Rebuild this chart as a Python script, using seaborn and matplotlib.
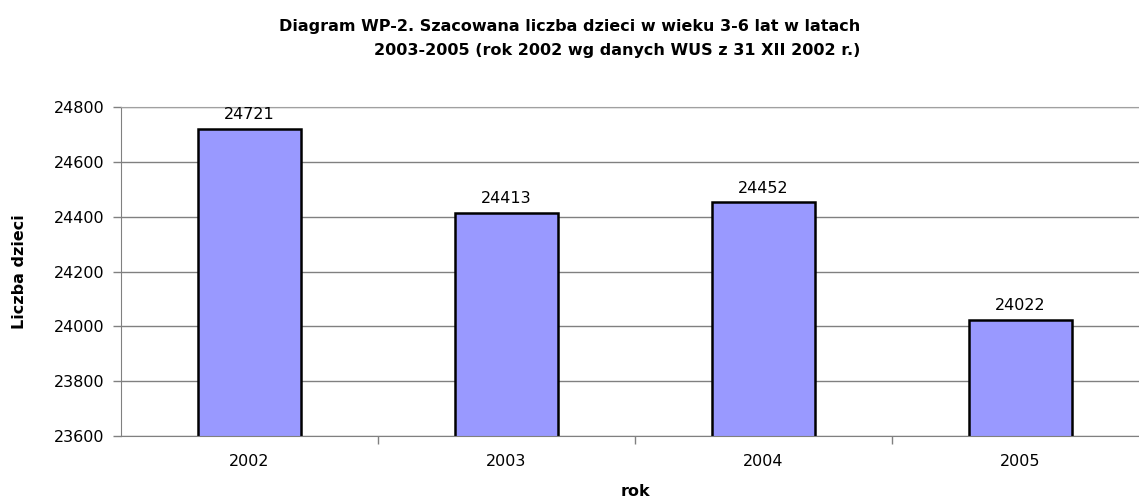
import matplotlib.pyplot as plt
import pandas as pd
import seaborn as sns

# data
years = ["2002", "2003", "2004", "2005"]
children = [24721, 24413, 24452, 24022]

df = pd.DataFrame({"rok": years, "dzieci": children})

sns.set_style("white")
plt.rcParams["font.family"] = ["DejaVu Sans"]
plt.rcParams["text.color"] = "black"
plt.rcParams["xtick.labelcolor"] = "black"
plt.rcParams["ytick.labelcolor"] = "black"
plt.rcParams["axes.labelcolor"] = "black"

fig = plt.figure(figsize=(11.39, 5.03), dpi=100)
ax = fig.add_axes([121 / 1139, 1 - 436 / 503, 1028 / 1139, 329 / 503])

sns.barplot(data=df, x="rok", y="dzieci", color="#9999ff", width=0.4,
            edgecolor="black", linewidth=1.8, saturation=1, ax=ax)

ax.set_ylim(23600, 24800)
ax.set_yticks(range(23600, 24801, 200))
ax.set_xlim(-0.5, 3.5)
ax.yaxis.grid(True, color="#808080", linewidth=1)
ax.set_axisbelow(True)

ax.spines["right"].set_visible(False)
ax.spines["top"].set_color("#a0a0a0")
ax.spines["left"].set_color("#808080")
ax.spines["bottom"].set_color("#808080")

ax.tick_params(axis="y", length=6, width=1, color="#808080", labelsize=11.5, pad=6, left=True)
ax.tick_params(axis="x", length=0, labelsize=11.5, pad=13)
# category separator ticks
ax.set_xticks([0.5, 1.5, 2.5], minor=True)
ax.tick_params(axis="x", which="minor", length=6, width=1, color="#808080", bottom=True)

for i, v in enumerate(children):
    ax.text(i, v + 25, str(v), ha="center", va="bottom", fontsize=11.5)

ax.set_ylabel("Liczba dzieci", fontsize=11.5, fontweight="bold")
ax.set_xlabel("rok", fontsize=11.5, fontweight="bold")
ax.yaxis.set_label_coords(-101 / 1028, 0.5)
ax.xaxis.set_label_coords(0.5, -(491 - 436) / 329)
ax.xaxis.label.set_va("center")
ax.yaxis.label.set_va("center")

fig.text(570 / 1139, 1 - 39 / 503,
         "Diagram WP-2. Szacowana liczba dzieci w wieku 3-6 lat w latach\n"
         "2003-2005 (rok 2002 wg danych WUS z 31 XII 2002 r.)",
         fontsize=11.5, fontweight="bold", ha="center", va="center",
         multialignment="right", linespacing=1.75)

fig.savefig("out.png", dpi=100)
